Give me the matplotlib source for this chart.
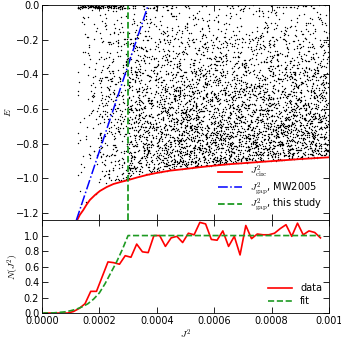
import numpy as np
import matplotlib
matplotlib.use('Agg')
import matplotlib.pyplot as plt

plt.rcParams['mathtext.fontset'] = 'cm'
plt.rcParams['font.size'] = 7

# circular-orbit curve J^2_circ(E)
j2_circ = [0.000123, 0.000132, 0.000144, 0.000155, 0.000167, 0.000185, 0.000202, 0.000225,
           0.000249, 0.000275, 0.000301, 0.00033, 0.000365, 0.0004, 0.000446, 0.0005, 0.00055,
           0.0006, 0.00065, 0.0007, 0.00075, 0.0008, 0.00085, 0.0009, 0.00095, 0.001]
e_circ = [-1.239, -1.21, -1.182, -1.152, -1.124, -1.095, -1.072, -1.05, -1.032, -1.02, -1.009,
          -0.995, -0.98, -0.968, -0.955, -0.945, -0.935, -0.926, -0.918, -0.912, -0.906, -0.9,
          -0.894, -0.888, -0.883, -0.878]

# gap lines
j2_mw = [0.00012, 0.00037]
e_mw = [-1.24, 0.0]
j2_gap = 0.0003

# bottom panel: data histogram and fit
j2_data = [0.00001, 0.00003, 0.00005, 0.00007, 0.00009, 0.00011, 0.00013, 0.00015, 0.00017,
           0.00019, 0.00021, 0.00023, 0.00025, 0.00027, 0.00029, 0.00031, 0.00033, 0.00035,
           0.00037, 0.00039, 0.00041, 0.00043, 0.00045, 0.00047, 0.00049, 0.00051, 0.00053,
           0.00055, 0.00057, 0.00059, 0.00061, 0.00063, 0.00065, 0.00067, 0.00069, 0.00071,
           0.00073, 0.00075, 0.00077, 0.00079, 0.00081, 0.00083, 0.00085, 0.00087, 0.00089,
           0.00091, 0.00093, 0.00095, 0.00097]
n_data = [0.0, 0.0, 0.0, 0.0, 0.0, 0.02, 0.06, 0.12, 0.28, 0.28, 0.47, 0.66, 0.65, 0.63, 0.74,
          0.72, 0.89, 0.79, 0.78, 1.0, 1.0, 0.86, 0.97, 0.99, 0.91, 1.03, 1.01, 1.17, 1.15, 0.95,
          0.94, 1.06, 0.86, 0.99, 0.75, 1.13, 0.96, 1.02, 1.01, 1.01, 1.03, 1.09, 1.14, 0.99,
          1.16, 1.01, 1.06, 1.04, 0.97]
j2_fit = [0.0, 0.00004, 0.00008, 0.0001, 0.00012, 0.00014, 0.00016, 0.00018, 0.0002, 0.00022,
          0.00024, 0.00026, 0.00028, 0.0003, 0.00097]
n_fit = [0.0, 0.002, 0.015, 0.03, 0.05, 0.08, 0.12, 0.18, 0.26, 0.38, 0.52, 0.66, 0.82, 1.0, 1.0]

# particle counts per cell (rows: E bins of 0.1 from 0 down, cols: J^2 bins of 1e-4)
cell_counts = [
    [2, 10, 16, 17, 16, 15, 15, 14, 14, 14],
    [1, 9, 22, 28, 28, 27, 26, 26, 26, 26],
    [1, 9, 26, 36, 38, 38, 38, 37, 37, 37],
    [1, 10, 30, 46, 50, 50, 50, 50, 50, 50],
    [1, 11, 32, 54, 62, 64, 64, 64, 64, 64],
    [0, 11, 36, 62, 72, 76, 76, 76, 76, 76],
    [0, 11, 38, 68, 82, 88, 90, 90, 90, 90],
    [0, 10, 38, 74, 92, 100, 104, 104, 104, 104],
    [0, 8, 36, 76, 96, 106, 110, 110, 110, 110],
    [0, 6, 32, 76, 96, 106, 110, 110, 110, 110],
    [0, 5, 30, 76, 96, 106, 110, 110, 110, 110],
    [0, 4, 28, 76, 96, 106, 110, 110, 110, 110],
    [0, 4, 28, 76, 96, 106, 110, 110, 110, 110],
]
# thin crowded band just below E=0
band_counts = [8, 80, 50, 12, 6, 5, 5, 5, 5, 5]

# place the particles inside their cells (texture only)
rng = np.random.default_rng(3)
px, py = [], []
for i, row in enumerate(cell_counts):
    for j, n in enumerate(row):
        x = rng.uniform(j * 1e-4, (j + 1) * 1e-4, n)
        y = rng.uniform(-0.1 * (i + 1), -0.1 * i, n)
        px.extend(x)
        py.extend(y)
for j, n in enumerate(band_counts):
    px.extend(rng.uniform(j * 1e-4, (j + 1) * 1e-4, n))
    py.extend(rng.uniform(-0.02, 0.0, n))
px = np.array(px)
py = np.array(py)
keep = py > np.interp(px, j2_circ, e_circ, left=10)
px, py = px[keep], py[keep]

green = '#1e9a22'

fig = plt.figure(figsize=(3.41, 3.41), dpi=100)
gs = fig.add_gridspec(2, 1, height_ratios=[215, 93], hspace=0,
                      left=0.123, right=0.965, top=0.985, bottom=0.082)
ax1 = fig.add_subplot(gs[0])
ax2 = fig.add_subplot(gs[1], sharex=ax1)

ax1.plot(px, py, 'k.', ms=2.0, mew=0)
ax1.plot(j2_circ, e_circ, color='r', lw=1.3, label=r'$J^2_{\rm circ}$')
ax1.plot(j2_mw, e_mw, color='b', lw=1.1, ls='-.', label=r'$J^2_{\rm gap}$, MW2005')
ax1.axvline(j2_gap, color=green, lw=1.3, ls='--', label=r'$J^2_{\rm gap}$, this study')
ax1.set_ylim(-1.24, 0.0)
ax1.set_yticks([0.0, -0.2, -0.4, -0.6, -0.8, -1.0, -1.2])
ax1.set_ylabel(r'$E$', labelpad=2)
ax1.legend(loc='lower right', frameon=False, fontsize=7, handlelength=2.5,
           labelspacing=0.0, borderaxespad=0.3)
plt.setp(ax1.get_xticklabels(), visible=False)

ax2.plot(j2_data, n_data, color='r', lw=1.2, label='data')
ax2.plot(j2_fit, n_fit, color=green, lw=1.2, ls='--', label='fit')
ax2.set_ylim(0, 1.2)
ax2.set_yticks([0.0, 0.2, 0.4, 0.6, 0.8, 1.0])
ax2.set_xlim(0, 0.001)
ax2.set_xticks([0.0, 0.0002, 0.0004, 0.0006, 0.0008, 0.001])
ax2.set_xticklabels(['0.0000', '0.0002', '0.0004', '0.0006', '0.0008', '0.001'])
ax2.set_ylabel(r'$N(J^2)$', labelpad=2)
ax2.set_xlabel(r'$J^2$', labelpad=1)
ax2.legend(loc='lower right', frameon=False, fontsize=7, handlelength=2.5,
           labelspacing=0.3, borderaxespad=0.3)

for ax in (ax1, ax2):
    ax.tick_params(direction='in', top=True, right=True, length=4, width=0.6, pad=2)
    for s in ax.spines.values():
        s.set_linewidth(0.6)

fig.savefig('out.png', dpi=100)
